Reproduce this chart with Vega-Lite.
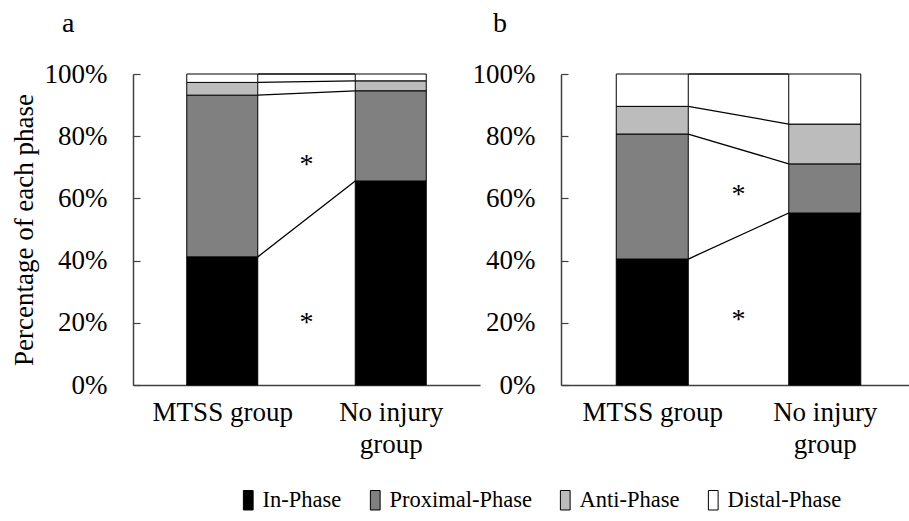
{
  "$schema": "https://vega.github.io/schema/vega-lite/v6.json",
  "padding": {"left": 10, "top": 10, "right": 0, "bottom": 0},
  "background": "white",
  "config": {
    "font": "Liberation Serif",
    "view": {"stroke": null},
    "axis": {"labelFont": "Liberation Serif", "titleFont": "Liberation Serif", "labelFontSize": 27, "titleFontSize": 27, "labelColor": "black", "titleColor": "black", "titleFontWeight": "normal", "domainColor": "#404040", "domainWidth": 1.5, "tickColor": "#404040", "tickWidth": 1.2, "grid": false},
    "title": {"font": "Liberation Serif", "fontSize": 28, "fontWeight": "normal", "color": "black", "anchor": "start", "frame": "group", "offset": 22},
    "legend": {"labelFont": "Liberation Serif", "labelFontSize": 22.5, "labelColor": "black", "labelLimit": 400}
  },
  "datasets": {
    "phases": [
      {"panel": "a", "group": "MTSS group", "g": 1, "phase": "In-Phase", "k": 1, "value": 41.2},
      {"panel": "a", "group": "MTSS group", "g": 1, "phase": "Proximal-Phase", "k": 2, "value": 52.0},
      {"panel": "a", "group": "MTSS group", "g": 1, "phase": "Anti-Phase", "k": 3, "value": 4.1},
      {"panel": "a", "group": "MTSS group", "g": 1, "phase": "Distal-Phase", "k": 4, "value": 2.7},
      {"panel": "a", "group": "No injury group", "g": 2, "phase": "In-Phase", "k": 1, "value": 65.6},
      {"panel": "a", "group": "No injury group", "g": 2, "phase": "Proximal-Phase", "k": 2, "value": 29.0},
      {"panel": "a", "group": "No injury group", "g": 2, "phase": "Anti-Phase", "k": 3, "value": 3.2},
      {"panel": "a", "group": "No injury group", "g": 2, "phase": "Distal-Phase", "k": 4, "value": 2.2},
      {"panel": "b", "group": "MTSS group", "g": 1, "phase": "In-Phase", "k": 1, "value": 40.5},
      {"panel": "b", "group": "MTSS group", "g": 1, "phase": "Proximal-Phase", "k": 2, "value": 40.2},
      {"panel": "b", "group": "MTSS group", "g": 1, "phase": "Anti-Phase", "k": 3, "value": 8.9},
      {"panel": "b", "group": "MTSS group", "g": 1, "phase": "Distal-Phase", "k": 4, "value": 10.4},
      {"panel": "b", "group": "No injury group", "g": 2, "phase": "In-Phase", "k": 1, "value": 55.3},
      {"panel": "b", "group": "No injury group", "g": 2, "phase": "Proximal-Phase", "k": 2, "value": 15.8},
      {"panel": "b", "group": "No injury group", "g": 2, "phase": "Anti-Phase", "k": 3, "value": 12.8},
      {"panel": "b", "group": "No injury group", "g": 2, "phase": "Distal-Phase", "k": 4, "value": 16.1}
    ]
  },
  "spacing": -8,
  "hconcat": [
    {
      "width": 347,
      "height": 311,
      "title": {"text": "a", "dx": -71},
      "layer": [
        {
          "data": {"name": "phases"},
          "transform": [
            {"filter": "datum.panel == 'a'"},
            {"stack": "value", "groupby": ["group"], "sort": [{"field": "k"}], "as": ["y0", "y1"]}
          ],
          "mark": {"type": "line", "color": "black", "strokeWidth": 1.3, "xOffset": {"expr": "datum.g == 1 ? 35.5 : -35.5"}},
          "encoding": {
            "x": {"field": "g", "type": "quantitative", "scale": {"domain": [0.5, 2.5], "nice": false, "zero": false},
              "axis": {"values": [1, 2], "title": null, "ticks": false, "labelPadding": 14, "labelLineHeight": 32, "labelOverlap": false, "labelFlush": false,
                "labelExpr": "datum.value == 1 ? 'MTSS group' : ['No injury', 'group']"}},
            "y": {"field": "y1", "type": "quantitative", "scale": {"domain": [0, 100], "nice": false},
              "axis": {"values": [0, 20, 40, 60, 80, 100], "title": "Percentage of each phase", "titlePadding": 6, "tickSize": -7, "labelPadding": 33, "labelExpr": "datum.value + '%'"}},
            "detail": {"field": "phase"}
          }
        },
        {
          "data": {"name": "phases"},
          "transform": [{"filter": "datum.panel == 'a'"}],
          "mark": {"type": "bar", "width": 71, "stroke": "black", "strokeWidth": 1},
          "encoding": {
            "x": {"field": "g", "type": "quantitative"},
            "y": {"field": "value", "type": "quantitative", "stack": "zero"},
            "color": {"field": "phase", "type": "nominal",
              "scale": {"domain": ["In-Phase", "Proximal-Phase", "Anti-Phase", "Distal-Phase"], "range": ["#000000", "#808080", "#bcbcbc", "#ffffff"]},
              "legend": {"orient": "none", "legendX": 104, "legendY": 415, "direction": "horizontal", "title": null,
                "symbolType": "M-0.5,-1H0.5V1H-0.5Z", "symbolSize": 380, "symbolStrokeColor": "black", "symbolStrokeWidth": 1, "symbolOpacity": 1,
                "columnPadding": 22, "labelOffset": 3}},
            "order": {"field": "k"}
          }
        },
        {
          "data": {"values": [{"y": 72.7}, {"y": 21.9}]},
          "mark": {"type": "text", "text": "*", "fontSize": 28, "font": "Liberation Serif", "color": "black", "baseline": "middle", "dy": 6},
          "encoding": {"x": {"datum": 1.5, "type": "quantitative"}, "y": {"field": "y", "type": "quantitative"}}
        }
      ]
    },
    {
      "width": 355,
      "height": 311,
      "title": {"text": "b", "dx": -68},
      "layer": [
        {
          "data": {"name": "phases"},
          "transform": [
            {"filter": "datum.panel == 'b'"},
            {"stack": "value", "groupby": ["group"], "sort": [{"field": "k"}], "as": ["y0", "y1"]}
          ],
          "mark": {"type": "line", "color": "black", "strokeWidth": 1.3, "xOffset": {"expr": "datum.g == 1 ? 36 : -36"}},
          "encoding": {
            "x": {"field": "g", "type": "quantitative", "scale": {"domain": [0.5, 2.5], "nice": false, "zero": false},
              "axis": {"values": [1, 2], "title": null, "ticks": false, "labelPadding": 14, "labelLineHeight": 32, "labelOverlap": false, "labelFlush": false,
                "labelExpr": "datum.value == 1 ? 'MTSS group' : ['No injury', 'group']"}},
            "y": {"field": "y1", "type": "quantitative", "scale": {"domain": [0, 100], "nice": false},
              "axis": {"values": [0, 20, 40, 60, 80, 100], "title": null, "tickSize": -7, "labelPadding": 33, "labelExpr": "datum.value + '%'"}},
            "detail": {"field": "phase"}
          }
        },
        {
          "data": {"name": "phases"},
          "transform": [{"filter": "datum.panel == 'b'"}],
          "mark": {"type": "bar", "width": 72, "stroke": "black", "strokeWidth": 1},
          "encoding": {
            "x": {"field": "g", "type": "quantitative"},
            "y": {"field": "value", "type": "quantitative", "stack": "zero"},
            "color": {"field": "phase", "type": "nominal"},
            "order": {"field": "k"}
          }
        },
        {
          "data": {"values": [{"y": 63.0}, {"y": 22.8}]},
          "mark": {"type": "text", "text": "*", "fontSize": 28, "font": "Liberation Serif", "color": "black", "baseline": "middle", "dy": 6},
          "encoding": {"x": {"datum": 1.5, "type": "quantitative"}, "y": {"field": "y", "type": "quantitative"}}
        }
      ]
    }
  ]
}
